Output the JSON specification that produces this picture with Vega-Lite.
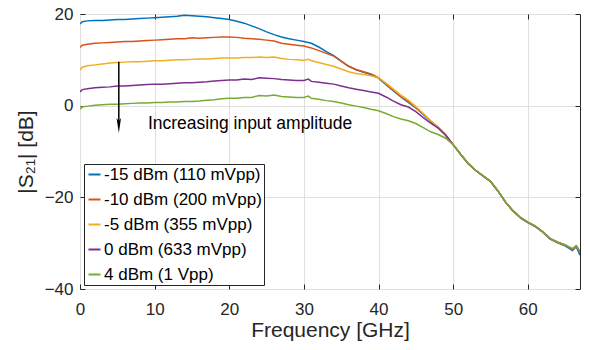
{
  "$schema": "https://vega.github.io/schema/vega-lite/v6.json",
  "width": 500,
  "height": 275,
  "autosize": {"type": "none"},
  "padding": {"left": 80, "top": 14, "right": 10, "bottom": 61},
  "background": "white",
  "config": {
    "font": "Liberation Sans",
    "view": {"stroke": "#262626", "strokeWidth": 1},
    "axis": {
      "domain": false,
      "grid": true,
      "gridColor": "#dfdfdf",
      "gridWidth": 1,
      "tickColor": "#262626",
      "tickSize": -5,
      "tickWidth": 1,
      "labelFlush": false,
      "labelFont": "Liberation Sans",
      "labelFontSize": 17,
      "labelColor": "#262626",
      "titleFont": "Liberation Sans",
      "titleFontSize": 21,
      "titleFontWeight": "normal",
      "titleColor": "#262626"
    }
  },
  "resolve": {"axis": {"x": "independent", "y": "independent"}},
  "layer": [
    {
      "data": {
        "values": [
          {"f":0,"s":"A","v":17.8},{"f":0.3,"s":"A","v":18.3},{"f":1,"s":"A","v":18.5},{"f":2,"s":"A","v":18.6},{"f":3,"s":"A","v":18.6},{"f":4,"s":"A","v":18.7},{"f":5,"s":"A","v":18.8},{"f":6,"s":"A","v":18.8},{"f":7,"s":"A","v":18.9},{"f":8,"s":"A","v":19.0},{"f":9,"s":"A","v":19.1},{"f":10,"s":"A","v":19.2},{"f":11,"s":"A","v":19.3},{"f":12,"s":"A","v":19.4},{"f":13,"s":"A","v":19.5},{"f":14,"s":"A","v":19.7},{"f":15,"s":"A","v":19.6},{"f":16,"s":"A","v":19.5},{"f":17,"s":"A","v":19.4},{"f":18,"s":"A","v":19.2},{"f":19,"s":"A","v":19.0},{"f":20,"s":"A","v":18.8},{"f":21,"s":"A","v":18.4},{"f":22,"s":"A","v":18.0},{"f":23,"s":"A","v":17.4},{"f":24,"s":"A","v":16.8},{"f":25,"s":"A","v":16.1},{"f":26,"s":"A","v":15.5},{"f":27,"s":"A","v":15.0},{"f":28,"s":"A","v":14.6},{"f":29,"s":"A","v":14.3},{"f":30,"s":"A","v":14.0},{"f":31,"s":"A","v":13.6},{"f":32,"s":"A","v":12.8},{"f":33,"s":"A","v":11.8},{"f":34,"s":"A","v":10.9},{"f":35,"s":"A","v":9.7},{"f":36,"s":"A","v":8.6},{"f":37,"s":"A","v":7.8},{"f":38,"s":"A","v":7.3},{"f":39,"s":"A","v":6.8},{"f":40,"s":"A","v":6.0},{"f":41,"s":"A","v":4.6},{"f":42,"s":"A","v":3.2},{"f":43,"s":"A","v":1.9},{"f":44,"s":"A","v":0.7},{"f":45,"s":"A","v":-0.5},{"f":46,"s":"A","v":-1.9},{"f":47,"s":"A","v":-3.4},{"f":48,"s":"A","v":-4.8},{"f":49,"s":"A","v":-6.5},{"f":50,"s":"A","v":-8.5},{"f":51,"s":"A","v":-10.6},{"f":52,"s":"A","v":-12.6},{"f":53,"s":"A","v":-14.1},{"f":54,"s":"A","v":-15.3},{"f":55,"s":"A","v":-16.5},{"f":56,"s":"A","v":-18.6},{"f":57,"s":"A","v":-21.0},{"f":58,"s":"A","v":-22.9},{"f":59,"s":"A","v":-24.5},{"f":60,"s":"A","v":-25.5},{"f":61,"s":"A","v":-26.4},{"f":62,"s":"A","v":-27.6},{"f":63,"s":"A","v":-29.1},{"f":64,"s":"A","v":-29.9},{"f":65,"s":"A","v":-30.6},{"f":66,"s":"A","v":-31.6},{"f":66.5,"s":"A","v":-30.8},{"f":67,"s":"A","v":-32.6},
          {"f":0,"s":"B","v":12.7},{"f":0.3,"s":"B","v":13.2},{"f":1,"s":"B","v":13.4},{"f":2,"s":"B","v":13.6},{"f":3,"s":"B","v":13.7},{"f":4,"s":"B","v":13.8},{"f":5,"s":"B","v":13.9},{"f":6,"s":"B","v":14.0},{"f":7,"s":"B","v":14.0},{"f":8,"s":"B","v":14.1},{"f":9,"s":"B","v":14.2},{"f":10,"s":"B","v":14.3},{"f":11,"s":"B","v":14.4},{"f":12,"s":"B","v":14.5},{"f":13,"s":"B","v":14.6},{"f":14,"s":"B","v":14.6},{"f":15,"s":"B","v":14.8},{"f":16,"s":"B","v":14.7},{"f":17,"s":"B","v":14.8},{"f":18,"s":"B","v":14.9},{"f":19,"s":"B","v":15.0},{"f":20,"s":"B","v":15.0},{"f":21,"s":"B","v":14.9},{"f":22,"s":"B","v":14.7},{"f":23,"s":"B","v":14.6},{"f":24,"s":"B","v":14.5},{"f":25,"s":"B","v":14.3},{"f":26,"s":"B","v":14.1},{"f":27,"s":"B","v":13.6},{"f":28,"s":"B","v":13.4},{"f":29,"s":"B","v":13.2},{"f":30,"s":"B","v":13.0},{"f":31,"s":"B","v":12.6},{"f":32,"s":"B","v":12.0},{"f":33,"s":"B","v":11.4},{"f":34,"s":"B","v":10.8},{"f":35,"s":"B","v":9.7},{"f":36,"s":"B","v":8.6},{"f":37,"s":"B","v":7.9},{"f":38,"s":"B","v":7.4},{"f":39,"s":"B","v":6.9},{"f":40,"s":"B","v":6.1},{"f":41,"s":"B","v":4.7},{"f":42,"s":"B","v":3.3},{"f":43,"s":"B","v":2.0},{"f":44,"s":"B","v":0.9},{"f":45,"s":"B","v":-0.4},{"f":46,"s":"B","v":-1.8},{"f":47,"s":"B","v":-3.4},{"f":48,"s":"B","v":-4.7},{"f":49,"s":"B","v":-6.4},{"f":50,"s":"B","v":-8.5},{"f":51,"s":"B","v":-10.6},{"f":52,"s":"B","v":-12.6},{"f":53,"s":"B","v":-14.1},{"f":54,"s":"B","v":-15.3},{"f":55,"s":"B","v":-16.5},{"f":56,"s":"B","v":-18.6},{"f":57,"s":"B","v":-21.0},{"f":58,"s":"B","v":-22.9},{"f":59,"s":"B","v":-24.4},{"f":60,"s":"B","v":-25.4},{"f":61,"s":"B","v":-26.3},{"f":62,"s":"B","v":-27.5},{"f":63,"s":"B","v":-29.0},{"f":64,"s":"B","v":-29.8},{"f":65,"s":"B","v":-30.5},{"f":66,"s":"B","v":-31.4},{"f":66.5,"s":"B","v":-30.6},{"f":67,"s":"B","v":-32.0},
          {"f":0,"s":"C","v":7.8},{"f":0.3,"s":"C","v":8.4},{"f":1,"s":"C","v":8.7},{"f":2,"s":"C","v":8.9},{"f":3,"s":"C","v":9.1},{"f":4,"s":"C","v":9.3},{"f":5,"s":"C","v":9.4},{"f":6,"s":"C","v":9.5},{"f":7,"s":"C","v":9.6},{"f":8,"s":"C","v":9.6},{"f":9,"s":"C","v":9.7},{"f":10,"s":"C","v":9.8},{"f":11,"s":"C","v":9.8},{"f":12,"s":"C","v":9.9},{"f":13,"s":"C","v":10.0},{"f":14,"s":"C","v":10.0},{"f":15,"s":"C","v":10.1},{"f":16,"s":"C","v":10.2},{"f":17,"s":"C","v":10.2},{"f":18,"s":"C","v":10.3},{"f":19,"s":"C","v":10.4},{"f":20,"s":"C","v":10.4},{"f":21,"s":"C","v":10.4},{"f":22,"s":"C","v":10.5},{"f":23,"s":"C","v":10.5},{"f":24,"s":"C","v":10.6},{"f":25,"s":"C","v":10.5},{"f":26,"s":"C","v":10.6},{"f":27,"s":"C","v":10.3},{"f":28,"s":"C","v":10.1},{"f":29,"s":"C","v":10.0},{"f":30,"s":"C","v":9.9},{"f":30.6,"s":"C","v":10.1},{"f":31,"s":"C","v":9.8},{"f":32,"s":"C","v":9.4},{"f":33,"s":"C","v":9.0},{"f":34,"s":"C","v":8.6},{"f":35,"s":"C","v":8.0},{"f":36,"s":"C","v":7.4},{"f":37,"s":"C","v":7.0},{"f":38,"s":"C","v":6.8},{"f":39,"s":"C","v":6.5},{"f":40,"s":"C","v":6.1},{"f":41,"s":"C","v":4.9},{"f":42,"s":"C","v":3.6},{"f":43,"s":"C","v":2.3},{"f":44,"s":"C","v":1.2},{"f":45,"s":"C","v":-0.2},{"f":46,"s":"C","v":-1.7},{"f":47,"s":"C","v":-3.3},{"f":48,"s":"C","v":-4.7},{"f":49,"s":"C","v":-6.4},{"f":50,"s":"C","v":-8.5},{"f":51,"s":"C","v":-10.6},{"f":52,"s":"C","v":-12.6},{"f":53,"s":"C","v":-14.1},{"f":54,"s":"C","v":-15.3},{"f":55,"s":"C","v":-16.5},{"f":56,"s":"C","v":-18.6},{"f":57,"s":"C","v":-21.0},{"f":58,"s":"C","v":-22.9},{"f":59,"s":"C","v":-24.4},{"f":60,"s":"C","v":-25.4},{"f":61,"s":"C","v":-26.3},{"f":62,"s":"C","v":-27.5},{"f":63,"s":"C","v":-29.0},{"f":64,"s":"C","v":-29.8},{"f":65,"s":"C","v":-30.4},{"f":66,"s":"C","v":-31.3},{"f":66.5,"s":"C","v":-30.7},{"f":67,"s":"C","v":-31.9},
          {"f":0,"s":"D","v":3.0},{"f":0.3,"s":"D","v":3.5},{"f":1,"s":"D","v":3.7},{"f":2,"s":"D","v":3.9},{"f":3,"s":"D","v":4.0},{"f":4,"s":"D","v":4.1},{"f":5,"s":"D","v":4.3},{"f":6,"s":"D","v":4.3},{"f":7,"s":"D","v":4.4},{"f":8,"s":"D","v":4.5},{"f":9,"s":"D","v":4.6},{"f":10,"s":"D","v":4.7},{"f":11,"s":"D","v":4.7},{"f":12,"s":"D","v":4.8},{"f":13,"s":"D","v":4.9},{"f":14,"s":"D","v":5.0},{"f":15,"s":"D","v":5.0},{"f":16,"s":"D","v":5.1},{"f":17,"s":"D","v":5.2},{"f":18,"s":"D","v":5.4},{"f":19,"s":"D","v":5.5},{"f":20,"s":"D","v":5.6},{"f":21,"s":"D","v":5.6},{"f":22,"s":"D","v":5.8},{"f":23,"s":"D","v":5.7},{"f":24,"s":"D","v":6.1},{"f":25,"s":"D","v":6.0},{"f":26,"s":"D","v":5.9},{"f":27,"s":"D","v":5.7},{"f":28,"s":"D","v":5.6},{"f":29,"s":"D","v":5.5},{"f":30,"s":"D","v":5.5},{"f":30.6,"s":"D","v":5.8},{"f":31,"s":"D","v":5.3},{"f":32,"s":"D","v":5.1},{"f":33,"s":"D","v":4.9},{"f":34,"s":"D","v":4.7},{"f":35,"s":"D","v":4.3},{"f":36,"s":"D","v":3.9},{"f":37,"s":"D","v":3.6},{"f":38,"s":"D","v":3.3},{"f":39,"s":"D","v":3.0},{"f":40,"s":"D","v":2.7},{"f":41,"s":"D","v":1.9},{"f":42,"s":"D","v":1.0},{"f":43,"s":"D","v":0.2},{"f":44,"s":"D","v":-0.3},{"f":45,"s":"D","v":-1.3},{"f":46,"s":"D","v":-2.6},{"f":47,"s":"D","v":-3.8},{"f":48,"s":"D","v":-4.9},{"f":49,"s":"D","v":-6.4},{"f":50,"s":"D","v":-8.5},{"f":51,"s":"D","v":-10.6},{"f":52,"s":"D","v":-12.6},{"f":53,"s":"D","v":-14.1},{"f":54,"s":"D","v":-15.3},{"f":55,"s":"D","v":-16.5},{"f":56,"s":"D","v":-18.6},{"f":57,"s":"D","v":-21.0},{"f":58,"s":"D","v":-22.9},{"f":59,"s":"D","v":-24.4},{"f":60,"s":"D","v":-25.4},{"f":61,"s":"D","v":-26.3},{"f":62,"s":"D","v":-27.5},{"f":63,"s":"D","v":-29.0},{"f":64,"s":"D","v":-29.8},{"f":65,"s":"D","v":-30.4},{"f":66,"s":"D","v":-31.3},{"f":66.5,"s":"D","v":-30.6},{"f":67,"s":"D","v":-31.9},
          {"f":0,"s":"E","v":-0.8},{"f":0.3,"s":"E","v":-0.3},{"f":1,"s":"E","v":-0.1},{"f":2,"s":"E","v":0.1},{"f":3,"s":"E","v":0.2},{"f":4,"s":"E","v":0.3},{"f":5,"s":"E","v":0.3},{"f":6,"s":"E","v":0.4},{"f":7,"s":"E","v":0.5},{"f":8,"s":"E","v":0.6},{"f":9,"s":"E","v":0.6},{"f":10,"s":"E","v":0.7},{"f":11,"s":"E","v":0.7},{"f":12,"s":"E","v":0.8},{"f":13,"s":"E","v":0.8},{"f":14,"s":"E","v":0.9},{"f":15,"s":"E","v":0.9},{"f":16,"s":"E","v":1.0},{"f":17,"s":"E","v":1.2},{"f":18,"s":"E","v":1.3},{"f":19,"s":"E","v":1.5},{"f":20,"s":"E","v":1.6},{"f":21,"s":"E","v":1.6},{"f":22,"s":"E","v":1.8},{"f":23,"s":"E","v":1.8},{"f":24,"s":"E","v":2.2},{"f":25,"s":"E","v":2.1},{"f":26,"s":"E","v":2.3},{"f":27,"s":"E","v":2.0},{"f":28,"s":"E","v":1.9},{"f":29,"s":"E","v":1.8},{"f":30,"s":"E","v":1.8},{"f":30.6,"s":"E","v":2.1},{"f":31,"s":"E","v":1.6},{"f":32,"s":"E","v":1.4},{"f":33,"s":"E","v":1.1},{"f":34,"s":"E","v":0.9},{"f":35,"s":"E","v":0.6},{"f":36,"s":"E","v":0.2},{"f":37,"s":"E","v":-0.1},{"f":38,"s":"E","v":-0.4},{"f":39,"s":"E","v":-0.8},{"f":40,"s":"E","v":-1.1},{"f":41,"s":"E","v":-1.7},{"f":42,"s":"E","v":-2.4},{"f":43,"s":"E","v":-2.9},{"f":44,"s":"E","v":-3.3},{"f":45,"s":"E","v":-3.9},{"f":46,"s":"E","v":-4.8},{"f":47,"s":"E","v":-5.7},{"f":48,"s":"E","v":-6.3},{"f":49,"s":"E","v":-7.1},{"f":50,"s":"E","v":-8.5},{"f":51,"s":"E","v":-10.6},{"f":52,"s":"E","v":-12.6},{"f":53,"s":"E","v":-14.1},{"f":54,"s":"E","v":-15.3},{"f":55,"s":"E","v":-16.5},{"f":56,"s":"E","v":-18.6},{"f":57,"s":"E","v":-21.0},{"f":58,"s":"E","v":-22.9},{"f":59,"s":"E","v":-24.4},{"f":60,"s":"E","v":-25.4},{"f":61,"s":"E","v":-26.3},{"f":62,"s":"E","v":-27.5},{"f":63,"s":"E","v":-29.0},{"f":64,"s":"E","v":-29.8},{"f":65,"s":"E","v":-30.4},{"f":66,"s":"E","v":-31.2},{"f":66.5,"s":"E","v":-30.6},{"f":67,"s":"E","v":-31.8}
        ]
      },
      "mark": {"type": "line", "strokeWidth": 1.5, "clip": true},
      "encoding": {
        "x": {
          "field": "f", "type": "quantitative",
          "scale": {"domain": [0, 67], "nice": false, "zero": false},
          "axis": {"orient": "bottom", "values": [0, 10, 20, 30, 40, 50, 60], "labelPadding": 17, "title": "Frequency [GHz]", "titlePadding": 2}
        },
        "y": {
          "field": "v", "type": "quantitative",
          "scale": {"domain": [-40, 20], "nice": false, "zero": false},
          "axis": {"orient": "left", "values": [-40, -20, 0, 20], "labelPadding": 12, "title": "|S₂₁| [dB]", "titlePadding": 8}
        },
        "color": {
          "field": "s", "type": "nominal",
          "scale": {"domain": ["A", "B", "C", "D", "E"], "range": ["#0072BD", "#D95319", "#EDB120", "#7E2F8E", "#77AC30"]},
          "legend": {
            "orient": "bottom-left", "offset": 4, "title": null,
            "strokeColor": "#262626", "fillColor": "white", "padding": 2,
            "symbolType": "stroke", "symbolSize": 144, "symbolStrokeWidth": 2,
            "labelFont": "Liberation Sans", "labelFontSize": 17, "labelColor": "#000000",
            "labelOffset": 1, "labelLimit": 400, "rowPadding": 7,
            "labelExpr": "{'A': '-15 dBm (110 mVpp)', 'B': '-10 dBm (200 mVpp)', 'C': '-5 dBm (355 mVpp)', 'D': '0 dBm (633 mVpp)', 'E': '4 dBm (1 Vpp)'}[datum.label]"
          }
        }
      }
    },
    {
      "data": {"values": [{"x": 5.2, "y1": 9.6, "y2": -3.6}]},
      "mark": {"type": "rule", "color": "#000000", "strokeWidth": 1.5},
      "encoding": {
        "x": {"field": "x", "type": "quantitative", "axis": {"orient": "top", "values": [10, 20, 30, 40, 50, 60], "labels": false, "title": null, "grid": false}},
        "y": {"field": "y1", "type": "quantitative", "axis": {"orient": "right", "values": [-40, -20, 0, 20], "labels": false, "title": null, "grid": false}},
        "y2": {"field": "y2"}
      }
    },
    {
      "data": {"values": [{"x": 5.2, "y": -4.3}]},
      "mark": {"type": "point", "shape": "M0,1L-0.3,-1L0,-0.55L0.3,-1Z", "size": 225, "filled": true, "color": "#000000", "opacity": 1, "strokeWidth": 0},
      "encoding": {
        "x": {"field": "x", "type": "quantitative", "axis": null},
        "y": {"field": "y", "type": "quantitative", "axis": null}
      }
    },
    {
      "data": {"values": [{"x": 9.1, "y": -5.0, "t": "Increasing input amplitude"}]},
      "mark": {"type": "text", "align": "left", "baseline": "alphabetic", "font": "Liberation Sans", "fontSize": 17.5, "color": "#000000"},
      "encoding": {
        "x": {"field": "x", "type": "quantitative", "axis": null},
        "y": {"field": "y", "type": "quantitative", "axis": null},
        "text": {"field": "t"}
      }
    }
  ]
}
